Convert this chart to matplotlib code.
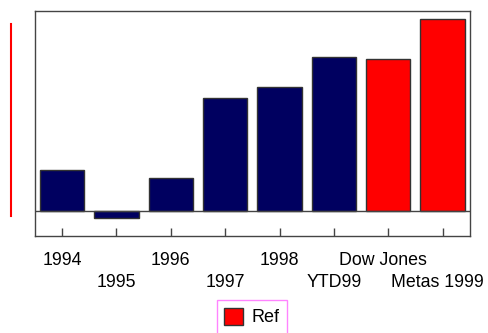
import numpy as np
import matplotlib
matplotlib.use("Agg")
import matplotlib.pyplot as plt
import matplotlib.transforms as mtransforms
from matplotlib.lines import Line2D

plt.rcParams['font.family'] = ['Liberation Sans', 'DejaVu Sans']

# yearly returns and the two reference values
years = ["1994", "1995", "1996", "1997", "1998", "YTD99"]
year_values = [40.4, -7.6, 32.7, 112.7, 123.7, 154.0]
refs = ["Dow Jones", "Metas 1999"]
ref_values = [151.4, 191.4]

labels = years + refs
navy = "#000060"
edge = "#333333"

fig = plt.figure(figsize=(4.88, 3.33), dpi=100)
ax = fig.add_axes([0.0717, 0.2913, 0.8908, 0.6757])

xy = np.arange(len(years))
xr = np.arange(len(years), len(labels))
ax.bar(xy, year_values, width=0.82, color=navy, edgecolor=edge, linewidth=1, zorder=2)
ax.bar(xr, ref_values, width=0.82, color="#ff0000", edgecolor=edge, linewidth=1,
       label="Ref", zorder=2)

ax.axhline(0, color="#444444", lw=1, zorder=3)
ax.set_xlim(-0.5, len(labels) - 0.5)
ax.set_ylim(-25.3, 199.7)
ax.set_yticks([])

ax.set_xticks(np.arange(len(labels)))
ax.set_xticklabels([])
ax.tick_params(axis="x", direction="in", length=6, width=1, color="#444444")

# category names on two staggered rows below the axis
base = ax.get_xaxis_transform()
for i, t in enumerate(labels):
    dy = -20.7 if i % 2 == 0 else -36.8
    dx = -4 if i >= len(years) else 0
    tr = base + mtransforms.ScaledTranslation(dx / 72, dy / 72, fig.dpi_scale_trans)
    ax.text(i, 0, t, transform=tr, ha="center", va="baseline", fontsize=12.8,
            clip_on=False)

for s in ax.spines.values():
    s.set_color("#444444")
    s.set_linewidth(1)

fig.add_artist(Line2D([0.0225, 0.0225], [0.351, 0.928], color="#ff0000", lw=1.5))

leg = fig.legend(loc="upper center", bbox_to_anchor=(0.5164, 0.0982), fontsize=13,
                 frameon=True, fancybox=False, borderpad=0.4, handlelength=1.05,
                 handleheight=1.1, handletextpad=0.5, borderaxespad=0)
leg.get_frame().set_edgecolor("#ff66ff")
leg.get_frame().set_linewidth(1)

fig.savefig("out.png", dpi=100)
